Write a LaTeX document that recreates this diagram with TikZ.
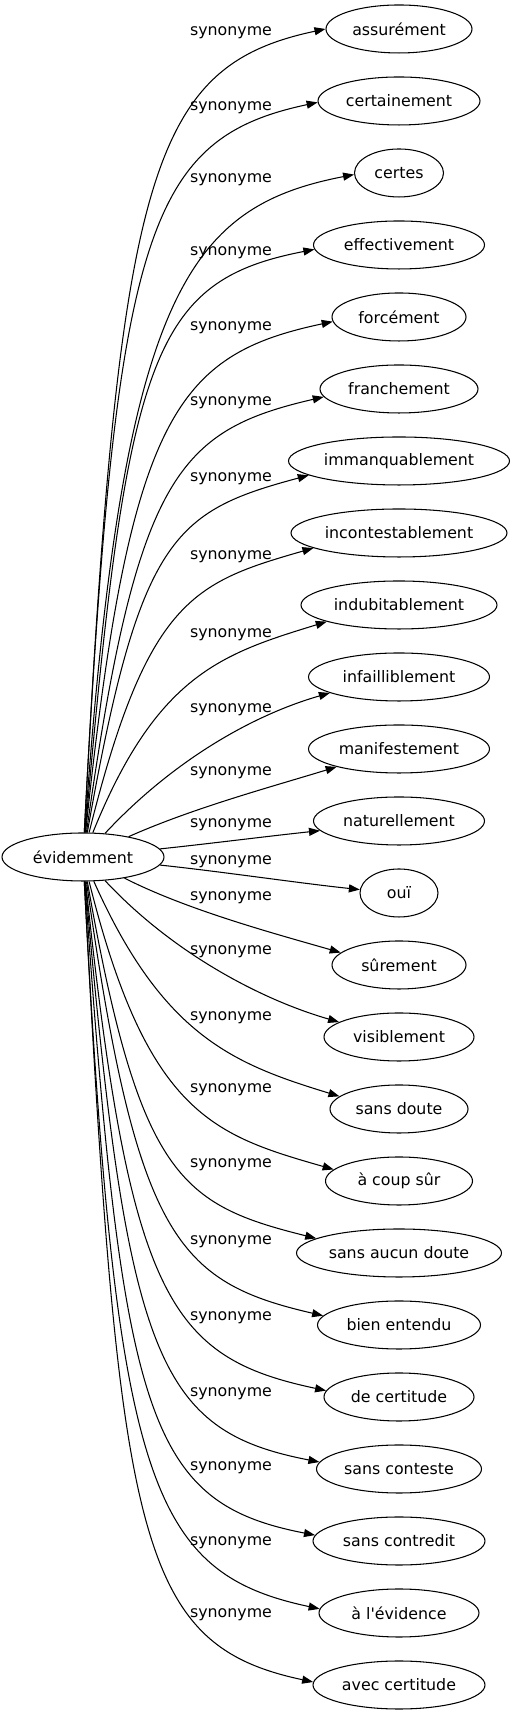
\documentclass[tikz,border=0pt]{standalone}
\usepackage{fontspec}
\setmainfont{DejaVu Sans}
\usetikzlibrary{arrows.meta,shapes.geometric}

\begin{document}
\begin{tikzpicture}[
    word/.style={draw, ellipse, minimum height=0.96cm, inner xsep=0pt, inner ysep=1pt,
                 line width=0.6pt},
    syn/.style={inner sep=0pt},
    arr/.style={-{Triangle[length=0.22cm, width=0.16cm]}, line width=0.6pt},
    font=\fontsize{9pt}{11pt}\selectfont,
]
\useasboundingbox (0,0) rectangle (10.3,34.3);

% source word
\node[word, minimum width=3.24cm] (evid) at (1.66, 17.16) {évidemment};

% synonyms, top to bottom
\node[word, minimum width=2.92cm] (assur) at (7.98, 33.72) {assurément};
\node[word, minimum width=3.24cm] (certn) at (7.98, 32.28) {certainement};
\node[word, minimum width=1.78cm] (certs) at (7.98, 30.84) {certes};
\node[word, minimum width=3.42cm] (effec) at (7.98, 29.40) {effectivement};
\node[word, minimum width=2.68cm] (force) at (7.98, 27.96) {forcément};
\node[word, minimum width=3.16cm] (franc) at (7.98, 26.52) {franchement};
\node[word, minimum width=4.42cm] (imman) at (7.98, 25.08) {immanquablement};
\node[word, minimum width=4.32cm] (incon) at (7.98, 23.64) {incontestablement};
\node[word, minimum width=3.92cm] (indub) at (7.98, 22.20) {indubitablement};
\node[word, minimum width=3.62cm] (infai) at (7.98, 20.76) {infailliblement};
\node[word, minimum width=3.62cm] (manif) at (7.98, 19.32) {manifestement};
\node[word, minimum width=3.42cm] (natur) at (7.98, 17.88) {naturellement};
\node[word, minimum width=1.56cm] (oui)   at (7.98, 16.44) {ouï};
\node[word, minimum width=2.68cm] (surem) at (7.98, 15.00) {sûrement};
\node[word, minimum width=3.00cm] (visib) at (7.98, 13.56) {visiblement};
\node[word, minimum width=2.76cm] (sdout) at (7.98, 12.12) {sans doute};
\node[word, minimum width=2.94cm] (acoup) at (7.98, 10.68) {à coup sûr};
\node[word, minimum width=4.10cm] (saucu) at (7.98, 9.24) {sans aucun doute};
\node[word, minimum width=3.26cm] (bienn) at (7.98, 7.80) {bien entendu};
\node[word, minimum width=3.00cm] (decer) at (7.98, 6.36) {de certitude};
\node[word, minimum width=3.30cm] (scont) at (7.98, 4.92) {sans conteste};
\node[word, minimum width=3.44cm] (scred) at (7.98, 3.48) {sans contredit};
\node[word, minimum width=3.20cm] (alevi) at (7.98, 2.04) {à l\textquotesingle évidence};
\node[word, minimum width=3.44cm] (aveccr) at (7.98, 0.60) {avec certitude};

% edges
\draw[arr] (evid) to[out=87, in=192, out distance=13.2cm, in distance=3.6cm] (assur.180);
\draw[arr] (evid) to[out=87, in=192, out distance=12.0cm, in distance=3.5cm] (certn.181);
\draw[arr] (evid) to[out=86, in=191, out distance=10.8cm, in distance=3.4cm] (certs.182);
\draw[arr] (evid) to[out=85, in=191, out distance=9.6cm, in distance=3.3cm] (effec.183);
\draw[arr] (evid) to[out=84, in=192, out distance=8.4cm, in distance=3.2cm] (force.184);
\draw[arr] (evid) to[out=82, in=193, out distance=7.2cm, in distance=3.0cm] (franc.186);
\draw[arr] (evid) to[out=80, in=195, out distance=6.0cm, in distance=2.8cm] (imman.189);
\draw[arr] (evid) to[out=76, in=196, out distance=4.8cm, in distance=2.5cm] (incon.190);
\draw[arr] (evid) to[out=68, in=197, out distance=3.4cm, in distance=2.2cm] (indub.193);
\draw[arr] (evid) to[out=47, in=196, out distance=2.0cm, in distance=1.6cm] (infai.193);
\draw[arr] (evid) to[out=24, in=197, out distance=1.4cm, in distance=1.4cm] (manif.196);
\draw[arr] (evid) to[out=6, in=186, out distance=1.0cm, in distance=1.0cm] (natur.187);
\draw[arr] (evid) to[out=-6, in=174, out distance=1.2cm, in distance=1.2cm] (oui.175);
\draw[arr] (evid) to[out=-27, in=164, out distance=1.4cm, in distance=1.4cm] (surem.168);
\draw[arr] (evid) to[out=-47, in=164, out distance=2.0cm, in distance=1.6cm] (visib.166);
\draw[arr] (evid) to[out=-66, in=163, out distance=3.4cm, in distance=2.2cm] (sdout.168);
\draw[arr] (evid) to[out=-76, in=164, out distance=4.8cm, in distance=2.5cm] (acoup.170);
\draw[arr] (evid) to[out=-80, in=166, out distance=6.0cm, in distance=2.8cm] (saucu.170);
\draw[arr] (evid) to[out=-82, in=167, out distance=7.2cm, in distance=3.0cm] (bienn.173);
\draw[arr] (evid) to[out=-84, in=168, out distance=8.4cm, in distance=3.2cm] (decer.175);
\draw[arr] (evid) to[out=-85, in=169, out distance=9.6cm, in distance=3.3cm] (scont.175);
\draw[arr] (evid) to[out=-86, in=169, out distance=10.8cm, in distance=3.4cm] (scred.176);
\draw[arr] (evid) to[out=-87, in=168, out distance=12.0cm, in distance=3.5cm] (alevi.177);
\draw[arr] (evid) to[out=-87, in=168, out distance=13.2cm, in distance=3.6cm] (aveccr.178);

% edge labels
\node[syn] (l1)  at (4.62, 33.64) {synonyme};
\node[syn] (l2)  at (4.62, 32.14) {synonyme};
\node[syn] (l3)  at (4.62, 30.70) {synonyme};
\node[syn] (l4)  at (4.62, 29.24) {synonyme};
\node[syn] (l5)  at (4.62, 27.74) {synonyme};
\node[syn] (l6)  at (4.62, 26.24) {synonyme};
\node[syn] (l7)  at (4.62, 24.72) {synonyme};
\node[syn] (l8)  at (4.62, 23.16) {synonyme};
\node[syn] (l9)  at (4.62, 21.60) {synonyme};
\node[syn] (l10) at (4.62, 20.10) {synonyme};
\node[syn] (l11) at (4.62, 18.84) {synonyme};
\node[syn] (l12) at (4.62, 17.80) {synonyme};
\node[syn] (l13) at (4.62, 17.06) {synonyme};
\node[syn] (l14) at (4.62, 16.34) {synonyme};
\node[syn] (l15) at (4.62, 15.26) {synonyme};
\node[syn] (l16) at (4.62, 13.94) {synonyme};
\node[syn] (l17) at (4.62, 12.50) {synonyme};
\node[syn] (l18) at (4.62, 11.00) {synonyme};
\node[syn] (l19) at (4.62, 9.46) {synonyme};
\node[syn] (l20) at (4.62, 7.94) {synonyme};
\node[syn] (l21) at (4.62, 6.42) {synonyme};
\node[syn] (l22) at (4.62, 4.94) {synonyme};
\node[syn] (l23) at (4.62, 3.44) {synonyme};
\node[syn] (l24) at (4.62, 2.00) {synonyme};
\end{tikzpicture}
\end{document}
